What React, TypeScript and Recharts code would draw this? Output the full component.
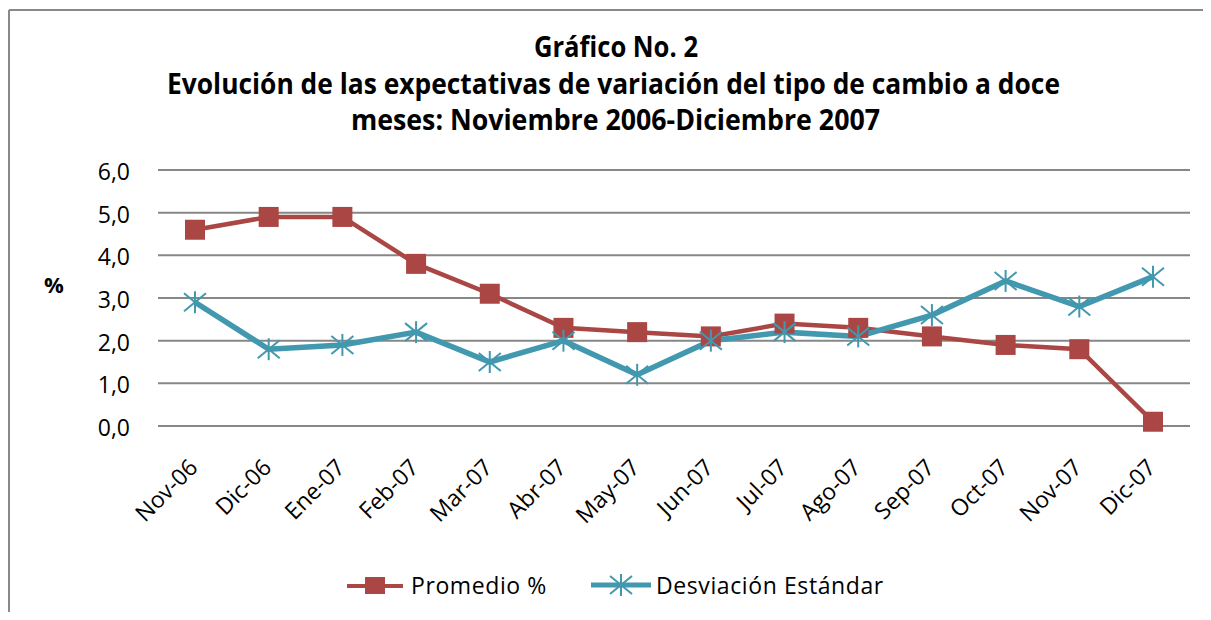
import React from "react";
import { LineChart, Line, XAxis, YAxis, CartesianGrid } from "recharts";

// categorías y series
const months = [
  "Nov-06", "Dic-06", "Ene-07", "Feb-07", "Mar-07", "Abr-07", "May-07",
  "Jun-07", "Jul-07", "Ago-07", "Sep-07", "Oct-07", "Nov-07", "Dic-07",
];
const promedio = [4.6, 4.9, 4.9, 3.8, 3.1, 2.3, 2.2, 2.1, 2.4, 2.3, 2.1, 1.9, 1.8, 0.1];
const desviacion = [2.9, 1.8, 1.9, 2.2, 1.5, 2.0, 1.2, 2.0, 2.2, 2.1, 2.6, 3.4, 2.8, 3.5];
const yTicks = [0, 1, 2, 3, 4, 5, 6];
const titleLines = [
  "Gráfico No. 2",
  "Evolución de las expectativas de variación del tipo de cambio a doce",
  "meses: Noviembre 2006-Diciembre 2007",
];

const RED = "#AA4643";
const TEAL = "#4198AF";
const GRID = "#878787";
const FONT = "'Open Sans', 'Noto Sans', sans-serif";

const data = months.map((mes, i) => ({
  mes,
  promedio: promedio[i],
  desviacion: desviacion[i],
}));

// marcador cuadrado (Promedio)
const SquareDot = (props: any) => {
  const { cx, cy, index } = props;
  if (cx == null || cy == null) return null;
  return <rect key={`sq-${index}`} x={cx - 10} y={cy - 10} width={20} height={20} fill={RED} />;
};

// marcador asterisco (Desviación)
const StarDot = (props: any) => {
  const { cx, cy, index } = props;
  if (cx == null || cy == null) return null;
  return (
    <g key={`st-${index}`} stroke={TEAL} strokeWidth={2}>
      <line x1={cx - 11} y1={cy - 9} x2={cx + 11} y2={cy + 9} />
      <line x1={cx - 11} y1={cy + 9} x2={cx + 11} y2={cy - 9} />
      <line x1={cx} y1={cy - 11} x2={cx} y2={cy + 11} />
    </g>
  );
};

const XTick = (props: any) => {
  const { x, y, payload } = props;
  const ax = x + 4;
  const ay = y + 43;
  return (
    <text
      x={ax}
      y={ay}
      textAnchor="end"
      transform={`rotate(-45, ${ax}, ${ay})`}
      fontFamily={FONT}
      fontSize={23}
      fill="#000"
    >
      {payload.value}
    </text>
  );
};

const YTick = (props: any) => {
  const { x, y, payload } = props;
  return (
    <text x={x} y={y + 10} textAnchor="end" fontFamily={FONT} fontSize={23} fill="#000">
      {payload.value.toFixed(1).replace(".", ",")}
    </text>
  );
};

export default function App() {
  const titleX = [608, 605.5, 607.5];
  const titleY = [49, 86, 122];
  const titleW = [164, 893, 529];

  return (
    <div style={{ position: "relative", width: 1203, height: 604, background: "#fff", overflow: "hidden" }}>
      {/* título */}
      <svg width={1203} height={140} style={{ position: "absolute", left: 0, top: 0 }}>
        {titleLines.map((t, i) => (
          <text
            key={i}
            x={titleX[i]}
            y={titleY[i]}
            textAnchor="middle"
            fontFamily="'Liberation Sans Narrow', 'Open Sans', sans-serif"
            fontWeight="bold"
            fontSize={28}
            textLength={titleW[i]}
            lengthAdjust="spacingAndGlyphs"
            fill="#000"
          >
            {t}
          </text>
        ))}
      </svg>

      <div style={{ position: "absolute", left: 0, top: 0 }}>
        <LineChart
          width={1203}
          height={604}
          data={data}
          margin={{ top: 162, right: 21, bottom: 86, left: 0 }}
        >
          <CartesianGrid horizontal vertical={false} stroke={GRID} strokeWidth={2} />
          <XAxis
            dataKey="mes"
            height={100}
            padding={{ left: 37, right: 37 }}
            axisLine={{ stroke: GRID, strokeWidth: 2 }}
            tickLine={false}
            tickSize={0}
            tickMargin={0}
            interval={0}
            tick={<XTick />}
          />
          <YAxis
            width={150}
            domain={[0, 6]}
            ticks={yTicks}
            axisLine={false}
            tickLine={false}
            tickSize={0}
            tickMargin={28}
            tick={<YTick />}
          />
          <Line
            type="linear"
            dataKey="promedio"
            stroke={RED}
            strokeWidth={4.5}
            dot={<SquareDot />}
            activeDot={false}
            isAnimationActive={false}
          />
          <Line
            type="linear"
            dataKey="desviacion"
            stroke={TEAL}
            strokeWidth={5.5}
            dot={<StarDot />}
            activeDot={false}
            isAnimationActive={false}
          />
        </LineChart>
      </div>

      {/* franja blanca a la derecha, por encima de todo */}
      <div
        style={{
          position: "absolute",
          left: 1188,
          top: 0,
          width: 15,
          height: 604,
          background: "#fff",
          zIndex: 5,
        }}
      />

      {/* marco del gráfico: borde superior e izquierdo */}
      <svg width={1203} height={604} style={{ position: "absolute", left: 0, top: 0, zIndex: 6 }}>
        <line x1={1} y1={2} x2={1203} y2={2} stroke="#898989" strokeWidth={2} />
        <line x1={1} y1={2} x2={1} y2={604} stroke="#898989" strokeWidth={2} />
      </svg>

      {/* etiqueta del eje */}
      <div
        style={{
          position: "absolute",
          left: 36,
          top: 263,
          fontFamily: FONT,
          fontWeight: "bold",
          fontSize: 22,
          lineHeight: "26px",
        }}
      >
        %
      </div>

      {/* leyenda */}
      <div
        style={{
          position: "absolute",
          left: 339,
          top: 564,
          height: 26,
          display: "flex",
          alignItems: "center",
          fontFamily: FONT,
          fontSize: 23,
          letterSpacing: 0.6,
          lineHeight: "26px",
          whiteSpace: "nowrap",
        }}
      >
        <svg width={56} height={22} style={{ marginRight: 8 }}>
          <line x1={0} y1={12} x2={56} y2={12} stroke={RED} strokeWidth={4} />
          <rect x={18} y={3} width={20} height={17} fill={RED} />
        </svg>
        <span style={{ marginRight: 44 }}>Promedio %</span>
        <svg width={60} height={24} style={{ marginRight: 5 }}>
          <line x1={0} y1={12} x2={60} y2={12} stroke={TEAL} strokeWidth={5} />
          <g stroke={TEAL} strokeWidth={2}>
            <line x1={19} y1={3} x2={41} y2={21} />
            <line x1={19} y1={21} x2={41} y2={3} />
            <line x1={30} y1={1} x2={30} y2={23} />
          </g>
        </svg>
        <span>Desviación Estándar</span>
      </div>
    </div>
  );
}
